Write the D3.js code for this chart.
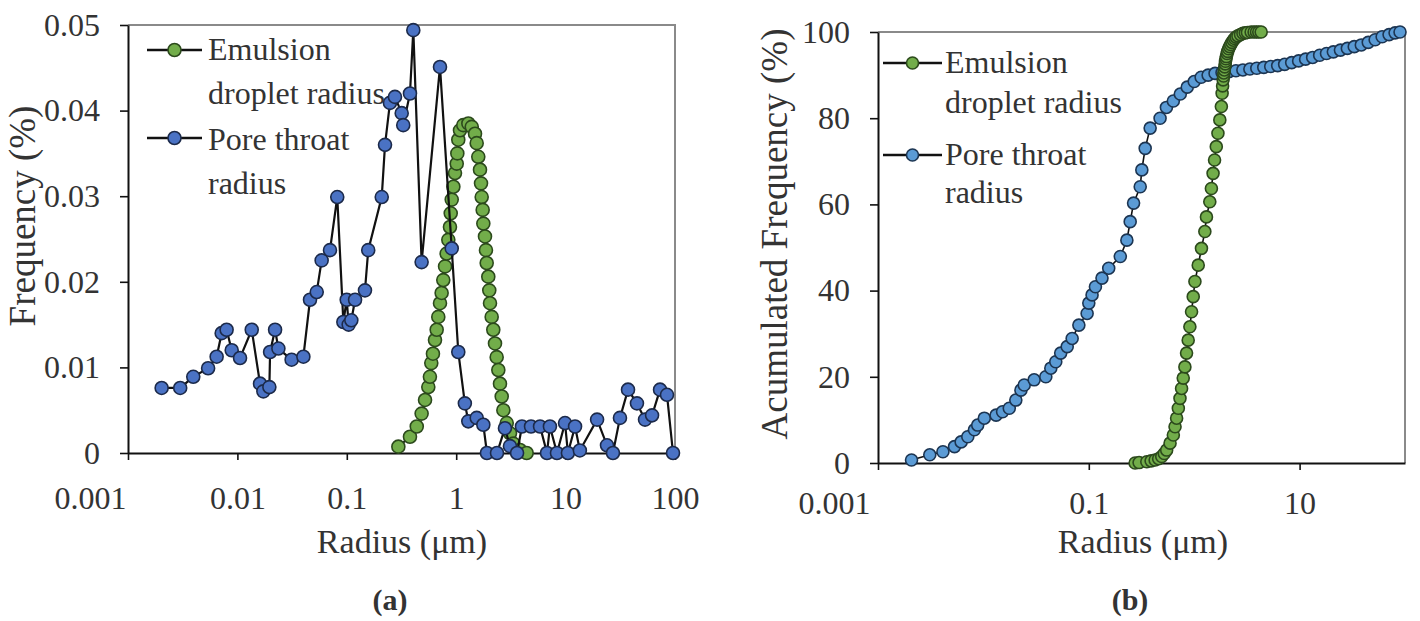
<!DOCTYPE html>
<html><head><meta charset="utf-8">
<script src="https://cdn.jsdelivr.net/npm/d3@7"></script>
<style>
body{margin:0;background:#fff}
text{font-family:"Liberation Serif","Times New Roman",serif;fill:#333}
</style>
</head><body>
<svg id="c" width="1420" height="621"></svg>
<script>
// ---------- Panel (a): frequency ----------
const poreRadiusA = [0.00203,0.0030,0.00395,0.0054,0.00646,0.00718,0.00797,0.00887,0.01057,0.01352,0.0161,0.01727,0.0196,0.0199,0.0221,0.0237,0.0313,0.0401,0.0461,0.0531,0.0589,0.0702,0.0818,0.093,0.0998,0.104,0.110,0.119,0.1466,0.157,0.2086,0.2235,0.248,0.2755,0.3175,0.328,0.378,0.4055,0.483,0.711,0.91,1.045,1.20,1.29,1.54,1.77,1.91,2.36,2.79,3.10,3.60,3.99,4.83,5.84,6.76,7.19,8.34,9.88,10.5,12.2,13.5,19.4,23.9,27.1,31.4,37.2,44.9,53.2,61.7,73.0,84.5,95.9];
const poreFreqA = [0.0076,0.0076,0.0089,0.0099,0.01125,0.0140,0.0144,0.0120,0.0111,0.0144,0.0081,0.0072,0.0077,0.0118,0.0144,0.0122,0.0109,0.01125,0.0179,0.0188,0.0225,0.0237,0.0299,0.0153,0.0179,0.0150,0.0155,0.0179,0.0190,0.0237,0.0299,0.0360,0.0409,0.0416,0.0397,0.0383,0.0420,0.0494,0.0223,0.0451,0.0239,0.0118,0.0058,0.0037,0.0041,0.0033,0,0,0.0029,0.0008,0,0.0031,0.0031,0.0031,0,0.0031,0,0.0035,0,0.0031,0.0003,0.0039,0.0009,0,0.0041,0.0074,0.0058,0.0039,0.0044,0.0074,0.0068,0];
const emulRadiusA = [0.296,0.378,0.436,0.483,0.519,0.556,0.575,0.592,0.613,0.640,0.663,0.686,0.711,0.736,0.762,0.791,0.818,0.847,0.877,0.891,0.910,0.942,0.975,1.011,1.024,1.045,1.083,1.161,1.291,1.387,1.486,1.539,1.592,1.650,1.686,1.710,1.746,1.770,1.833,1.871,1.900,1.965,2.006,2.037,2.110,2.183,2.263,2.344,2.427,2.513,2.606,2.698,2.897,3.104,3.327,3.830,4.406];
const emulFreqA = [0.00074,0.0019,0.0031,0.0046,0.0062,0.0077,0.0089,0.0105,0.0116,0.0132,0.0144,0.0159,0.0175,0.0187,0.0202,0.0218,0.0233,0.0249,0.0264,0.0280,0.0296,0.0311,0.0327,0.0338,0.0350,0.0366,0.0377,0.0383,0.0385,0.0381,0.0373,0.0362,0.0346,0.0331,0.0315,0.0299,0.0284,0.0268,0.0253,0.0237,0.0222,0.0206,0.0190,0.0175,0.0159,0.0144,0.0128,0.0112,0.0097,0.0081,0.0066,0.0050,0.0035,0.0023,0.0011,0.00035,0];
const xTicksA = [0.001,0.01,0.1,1,10,100];
const xLabelsA = ["0.001","0.01","0.1","1","10","100"];
const yTicksA = [0,0.01,0.02,0.03,0.04,0.05];
const yLabelsA = ["0","0.01","0.02","0.03","0.04","0.05"];

// ---------- Panel (b): accumulated frequency ----------
const poreRadiusB = [0.00208,0.0031,0.00413,0.00532,0.00615,0.00711,0.00822,0.00883,0.0102,0.0132,0.0152,0.0176,0.0203,0.0227,0.0244,0.0303,0.0391,0.0436,0.0486,0.0541,0.0624,0.0695,0.0805,0.0964,0.1,0.1074,0.1156,0.1334,0.1545,0.199,0.2297,0.247,0.266,0.3075,0.3185,0.3427,0.382,0.4744,0.545,0.634,0.738,0.859,1.0,1.164,1.355,1.578,1.837,2.138,2.489,2.897,3.373,3.926,4.571,5.321,6.194,7.211,8.41,9.79,11.4,13.3,15.5,18.0,20.9,24.4,28.4,33.0,38.5,44.8,52.1,60.7,70.6,80.5,89.7];
const poreCumB = [0.7,1.9,2.6,3.8,4.9,6.1,7.7,8.8,10.4,11.1,11.9,12.7,14.6,16.9,18.1,19.3,20.0,22.0,23.5,25.5,27.0,28.9,32.0,34.7,37.1,39.0,40.9,42.9,45.2,47.9,51.7,56.0,60.3,64.1,68.0,73.0,77.7,80.0,82.5,84.0,85.6,87.2,88.5,89.5,90.0,90.4,90.6,90.8,91.0,91.2,91.4,91.6,91.8,92.0,92.2,92.5,92.9,93.3,93.7,94.1,94.6,95.0,95.4,95.8,96.2,96.6,97.0,97.6,98.2,98.9,99.4,99.8,100];
const emulRadiusB = [0.275,0.30,0.355,0.39,0.426,0.46,0.492,0.52,0.548,0.590,0.634,0.658,0.681,0.707,0.733,0.759,0.787,0.816,0.846,0.877,0.910,0.944,0.979,1.016,1.092,1.172,1.262,1.307,1.406,1.456,1.510,1.56,1.62,1.68,1.75,1.81,1.84,1.86,1.88,1.90,1.91,1.93,1.95,1.97,1.98,2.00,2.02,2.05,2.08,2.12,2.17,2.22,2.28,2.35,2.42,2.5,2.6,2.75,2.90,3.05,3.2,3.47,3.7,3.9,4.1,4.32];
const emulCumB = [0,0.1,0.3,0.5,0.7,1.0,1.5,2.2,3.0,4.6,6.5,8.4,10.4,12.7,15.0,17.3,19.7,22.3,25.5,28.5,31.6,35.1,38.6,42.1,45.9,49.8,53.7,57.1,60.6,63.7,67.2,70.3,73.4,76.5,79.6,82.7,85.8,87.5,88.9,89.8,90.5,91.2,91.9,92.6,93.2,93.8,94.3,95.0,95.5,96.1,96.6,97.1,97.6,98.1,98.5,98.8,99.1,99.4,99.7,99.8,99.9,100,100,100,100,100];
const xTicksB = [0.001,0.1,10];
const xLabelsB = ["0.001","0.1","10"];
const yTicksB = [0,20,40,60,80,100];
const yLabelsB = ["0","20","40","60","80","100"];

const seriesNames = ["Emulsion", "droplet radius", "Pore throat", "radius"];

const svg = d3.select("#c");
const TICKF = 32, LEGF = 32, XTF = 34, YTF = 37;

function panel(o) {
  const g = svg.append("g");
  const x = d3.scaleLog().domain([0.001, 100]).range([o.x0, o.x1]);
  const y = d3.scaleLinear().domain(o.yDom).range([o.yb, o.yt]);

  g.append("path").attr("d", `M${o.x0},${o.yt}H${o.x1}V${o.yb}`)
    .attr("fill","none").attr("stroke","#8a8a8a").attr("stroke-width",2);

  const xa = g.append("g").attr("transform",`translate(0,${o.yb})`)
    .call(d3.axisBottom(x).tickValues(o.xt).tickFormat((d,i)=>o.xl[i]).tickSizeInner(7).tickSizeOuter(0).tickPadding(o.xpad));
  const ya = g.append("g").attr("transform",`translate(${o.x0},0)`)
    .call(d3.axisLeft(y).tickValues(o.yt_).tickFormat((d,i)=>o.yl[i]).tickSizeInner(8).tickSizeOuter(0).tickPadding(20));
  [xa, ya].forEach(a => {
    a.attr("font-family",'"Liberation Serif","Times New Roman",serif');
    a.selectAll("path.domain").attr("stroke","#111").attr("stroke-width",2);
    a.selectAll("line").attr("stroke","#111").attr("stroke-width",1.6);
    a.selectAll("text").attr("font-size",TICKF).attr("fill","#333");
  });
  xa.selectAll("text").filter((d,i)=>i===0).attr("dx", o.firstDx);

  const line = d3.line().x(d=>x(d[0])).y(d=>y(d[1]));
  function series(rs, vs, fill, stroke, r, lw) {
    const pts = rs.map((v,i)=>[v, vs[i]]);
    g.append("path").datum(pts).attr("d", line).attr("fill","none")
      .attr("stroke","#111").attr("stroke-width",lw);
    g.append("g").selectAll("circle").data(pts).join("circle")
      .attr("cx",d=>x(d[0])).attr("cy",d=>y(d[1])).attr("r",r)
      .attr("fill",fill).attr("stroke",stroke).attr("stroke-width",1.6);
  }
  o.draw(series);

  const L = o.leg;
  [[L.y1, o.gFill, o.gStroke],[L.y2, o.bFill, o.bStroke]].forEach(([yy,f,s])=>{
    g.append("line").attr("x1",L.lx0).attr("x2",L.lx1).attr("y1",yy).attr("y2",yy)
      .attr("stroke","#111").attr("stroke-width",2.5);
    g.append("circle").attr("cx",(L.lx0+L.lx1)/2).attr("cy",yy).attr("r",o.mr)
      .attr("fill",f).attr("stroke",s).attr("stroke-width",1.6);
  });
  seriesNames.forEach((t,i)=>{
    g.append("text").attr("x",L.tx).attr("y",L.base[i]).attr("font-size",LEGF).text(t);
  });

  g.append("text").attr("x",o.xtitle[0]).attr("y",o.xtitle[1]).attr("text-anchor","middle")
    .attr("font-size",XTF).text("Radius (μm)");
  g.append("text").attr("transform",`translate(${o.ytitle[0]},${o.ytitle[1]}) rotate(-90)`)
    .attr("text-anchor","middle").attr("font-size",YTF).text(o.ytitleText);
  g.append("text").attr("x",o.tag[0]).attr("y",o.tag[1]).attr("text-anchor","middle")
    .attr("font-size",30).attr("font-weight","bold").attr("fill","#222").text(o.tagText);
}

panel({
  x0:128, x1:675, yt:25, yb:453, yDom:[0,0.05],
  xt:xTicksA, xl:xLabelsA, yt_:yTicksA, yl:yLabelsA, xpad:26, firstDx:-38,
  mr:6.5,
  gFill:"#72ad4a", gStroke:"#2c4a1c", bFill:"#4a72c4", bStroke:"#1c2a4a",
  draw:(series)=>{
    series(emulRadiusA, emulFreqA, "#72ad4a", "#2c4a1c", 6.5, 2);
    series(poreRadiusA, poreFreqA, "#4a72c4", "#1c2a4a", 6.5, 2.2);
  },
  leg:{lx0:147, lx1:202, y1:50, y2:138, tx:208, base:[60,104,150,194]},
  xtitle:[402,553], ytitle:[35,216], ytitleText:"Frequency (%)",
  tag:[390,610], tagText:"(a)"
});

panel({
  x0:878, x1:1405, yt:32, yb:463, yDom:[0,100],
  xt:xTicksB, xl:xLabelsB, yt_:yTicksB, yl:yLabelsB, xpad:21, firstDx:-44,
  mr:6,
  gFill:"#72ad4a", gStroke:"#2c4a1c", bFill:"#5b9bd5", bStroke:"#1c3552",
  draw:(series)=>{
    series(poreRadiusB, poreCumB, "#5b9bd5", "#1c3552", 6, 1.6);
    series(emulRadiusB, emulCumB, "#72ad4a", "#2c4a1c", 6, 1.6);
  },
  leg:{lx0:883, lx1:942, y1:63, y2:155, tx:945, base:[73,113,165,203]},
  xtitle:[1143,553], ytitle:[787,234], ytitleText:"Acumulated Frequency (%)",
  tag:[1130,610], tagText:"(b)"
});
</script>
</body></html>
